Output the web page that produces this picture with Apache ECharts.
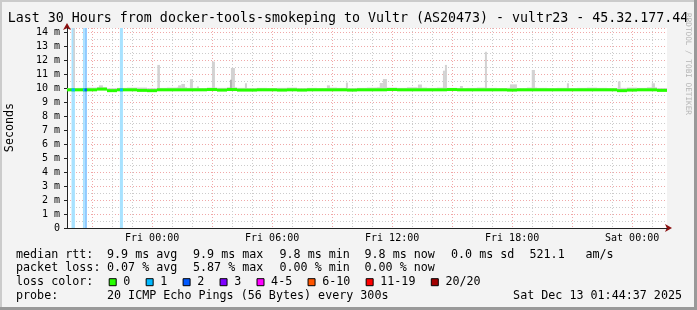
<!DOCTYPE html>
<html><head><meta charset="utf-8">
<script src="https://cdn.jsdelivr.net/npm/echarts@6/dist/echarts.min.js"></script>
<style>html,body{margin:0;padding:0;background:#f3f3f3}#c{width:697px;height:310px}</style>
</head><body><div id="c"></div>
<script>
// ---- time axis (hours since Thu Dec 11 00:00) ----
const START_H = 19.7436;   // Thu 19:44:37
const END_H = 49.7436;     // Sat 01:44:37
const STEP_H = 0.5;        // median bins of 30 min
const Y_MAX = 14.3;

const xLabelHours = [24, 30, 36, 42, 48];
const xLabels = ['Fri 00:00', 'Fri 06:00', 'Fri 12:00', 'Fri 18:00', 'Sat 00:00'];
const majorHours = [21, 24, 27, 30, 33, 36, 39, 42, 45, 48];
const minorHours = [20, 22, 23, 25, 26, 28, 29, 31, 32, 34, 35, 37, 38, 40, 41, 43, 44, 46, 47, 49];

// median rtt (ms) per 30-min bin
const median = [
  9.88, 9.88, 9.88, 9.93, 9.82, 9.88, 9.88, 9.84, 9.82, 9.88,
  9.88, 9.88, 9.88, 9.88, 9.90, 9.86, 9.90, 9.86, 9.86, 9.88,
  9.88, 9.86, 9.88, 9.86, 9.88, 9.88, 9.88, 9.88, 9.86, 9.88,
  9.88, 9.88, 9.90, 9.88, 9.88, 9.88, 9.88, 9.88, 9.90, 9.88,
  9.88, 9.88, 9.88, 9.88, 9.86, 9.88, 9.88, 9.88, 9.88, 9.88,
  9.88, 9.88, 9.88, 9.88, 9.88, 9.82, 9.86, 9.88, 9.88, 9.84
];
// upper edge of the thin smoke band per bin (ms)
const smokeTop = [
  10.00, 10.02, 10.04, 10.06, 10.00, 10.02, 10.04, 10.04, 10.00, 10.02,
  10.04, 10.06, 10.02, 10.00, 10.04, 10.02, 10.06, 10.02, 10.00, 10.02,
  10.00, 10.02, 10.04, 10.00, 10.02, 10.00, 10.04, 10.02, 10.00, 10.02,
  10.04, 10.06, 10.04, 10.02, 10.06, 10.04, 10.02, 10.04, 10.02, 10.00,
  10.02, 10.04, 10.02, 10.00, 10.02, 10.00, 10.04, 10.02, 10.00, 10.02,
  10.00, 10.02, 10.04, 10.02, 10.00, 10.02, 10.04, 10.02, 10.06, 10.00
];
// smoke spikes: [startHour, endHour, top ms]
const spikes = [
  [20.06, 20.14, 14.5], [21.34, 21.54, 10.2], [24.26, 24.39, 11.66],
  [25.30, 25.46, 10.2], [25.46, 25.64, 10.3], [25.89, 26.04, 10.64],
  [26.24, 26.34, 10.12], [26.99, 27.14, 11.9], [27.94, 28.14, 11.44],
  [28.64, 28.74, 10.35], [32.74, 32.89, 10.2], [33.69, 33.79, 10.4],
  [35.38, 35.54, 10.37], [35.54, 35.74, 10.65], [37.29, 37.49, 10.26],
  [38.54, 38.64, 11.25], [38.64, 38.74, 11.66], [39.39, 39.54, 10.15],
  [40.64, 40.74, 12.6], [41.89, 42.24, 10.27], [42.98, 43.14, 11.3],
  [44.74, 44.84, 10.35], [47.29, 47.42, 10.48], [48.98, 49.14, 10.35]
];
// darker core of smoke: [startHour, endHour, top ms]
const smokeCore = [[27.89, 27.99, 10.6]];
// packet loss intervals: [startHour, endHour, lost pings]
const lossEvents = [
  [19.97, 20.14, 1], [20.54, 20.63, 1], [20.63, 20.74, 2], [22.39, 22.54, 1]
];

const lossColors = ['#26ff00', '#00b8ff', '#0059ff', '#7e00ff', '#ff00ff', '#ff5500', '#ff0000', '#a10000'];
const lossBgColors = ['#ffffff', '#a8e2ff', '#8fcaff'];
const lossLabels = ['0', '1', '2', '3', '4-5', '6-10', '11-19', '20/20'];

const title = 'Last 30 Hours from docker-tools-smokeping to Vultr (AS20473) - vultr23 - 45.32.177.44';
const rttRow = [['median rtt:', 16], ['9.9 ms avg', 107], ['9.9 ms max', 193], ['9.8 ms min', 279.5], ['9.8 ms now', 364.5], ['0.0 ms sd', 451], ['521.1', 529.5], ['am/s', 585.5]];
const lossRow = [['packet loss:', 16], ['0.07 % avg', 107], ['5.87 % max', 193], ['0.00 % min', 279.5], ['0.00 % now', 364.5]];
const probeText = '20 ICMP Echo Pings (56 Bytes) every 300s';
const dateText = 'Sat Dec 13 01:44:37 2025';

// ---- build ----
const MONO = '"DejaVu Sans Mono", "Liberation Mono", monospace';
const medianData = median.map((v, i) => [START_H + i * STEP_H, START_H + (i + 1) * STEP_H, v, 0]);
const smokeData = median.map((v, i) => [START_H + i * STEP_H, START_H + (i + 1) * STEP_H, v, smokeTop[i]]);
function medianAt(h) { return median[Math.min(median.length - 1, Math.floor((h - START_H) / STEP_H))]; }
const spikeData = spikes.map(s => [s[0], s[1], medianAt(s[0]), s[2]]);
const coreData = smokeCore.map(s => [s[0], s[1], medianAt(s[0]), s[2]]);
const lossBgData = lossEvents.map(e => [e[0], e[1], 0, Y_MAX, e[2]]);
const lossLineData = lossEvents.map(e => [e[0], e[1], medianAt(e[0]), e[2]]);

function clipRect(r, cs) {
  return echarts.graphic.clipRectByRect(r, {x: cs.x, y: cs.y, width: cs.width, height: cs.height});
}
function rangeRender(fillFn) {
  return function (params, api) {
    const a = api.coord([api.value(0), api.value(2)]);
    const b = api.coord([api.value(1), api.value(3)]);
    const shape = clipRect({x: a[0], y: b[1], width: b[0] - a[0], height: a[1] - b[1]}, params.coordSys);
    return shape && {type: 'rect', shape: shape, style: {fill: fillFn(api)}};
  };
}
function lineRender(params, api) {
  const a = api.coord([api.value(0), api.value(2)]);
  const b = api.coord([api.value(1), api.value(2)]);
  const shape = clipRect({x: a[0], y: a[1] - 1.5, width: b[0] - a[0], height: 3}, params.coordSys);
  return shape && {type: 'rect', shape: shape, style: {fill: lossColors[api.value(3)]}};
}

const graphics = [];
// 3D frame
graphics.push({type: 'rect', shape: {x: 0, y: 0, width: 697, height: 2}, style: {fill: '#cbcbcb'}, silent: true});
graphics.push({type: 'rect', shape: {x: 0, y: 0, width: 2, height: 310}, style: {fill: '#cbcbcb'}, silent: true});
graphics.push({type: 'rect', shape: {x: 694, y: 0, width: 3, height: 310}, style: {fill: '#999999'}, silent: true});
graphics.push({type: 'rect', shape: {x: 0, y: 307, width: 697, height: 3}, style: {fill: '#999999'}, silent: true});
// title
graphics.push({type: 'text', x: 348, y: 19, style: {text: title, font: '13.3px ' + MONO, fill: '#000', align: 'center', verticalAlign: 'middle'}});
// y axis name
graphics.push({type: 'text', x: 10, y: 127.5, rotation: Math.PI / 2, style: {text: 'Seconds', font: '11.7px ' + MONO, fill: '#000', align: 'center', verticalAlign: 'middle'}});
// watermark
graphics.push({type: 'text', x: 688, y: 64, rotation: -Math.PI / 2, style: {text: 'RRDTOOL / TOBI OETIKER', font: '7.7px ' + MONO, fill: '#b4b4b4', align: 'center', verticalAlign: 'middle'}});
// legend rows
const rowY = [254.6, 268.3, 282.2, 296.2];
rttRow.forEach(t => graphics.push({type: 'text', x: t[1], y: rowY[0], style: {text: t[0], font: '11.7px ' + MONO, fill: '#000', verticalAlign: 'middle'}}));
lossRow.forEach(t => graphics.push({type: 'text', x: t[1], y: rowY[1], style: {text: t[0], font: '11.7px ' + MONO, fill: '#000', verticalAlign: 'middle'}}));
graphics.push({type: 'text', x: 16, y: rowY[2], style: {text: 'loss color:', font: '11.7px ' + MONO, fill: '#000', verticalAlign: 'middle'}});
let sx = 108.7;
lossLabels.forEach((lab, i) => {
  graphics.push({type: 'rect', shape: {x: sx + 0.5, y: rowY[2] - 3.5, width: 7, height: 7}, style: {fill: lossColors[i], stroke: '#000', lineWidth: 1}});
  graphics.push({type: 'text', x: sx + 14.6, y: rowY[2], style: {text: lab, font: '11.7px ' + MONO, fill: '#000', verticalAlign: 'middle'}});
  sx += 14.6 + lab.length * 7.05 + 15.3;
});
graphics.push({type: 'text', x: 16, y: rowY[3], style: {text: 'probe:', font: '11.7px ' + MONO, fill: '#000', verticalAlign: 'middle'}});
graphics.push({type: 'text', x: 107, y: rowY[3], style: {text: probeText, font: '11.7px ' + MONO, fill: '#000', verticalAlign: 'middle'}});
graphics.push({type: 'text', x: 682, y: rowY[3], style: {text: dateText, font: '11.7px ' + MONO, fill: '#000', align: 'right', verticalAlign: 'middle'}});

const gridLineGray = {show: true, lineStyle: {color: '#cccccc', width: 1, type: [1, 2]}};
const gridLineRed = {show: true, lineStyle: {color: '#f0a8a8', width: 1, type: [1, 2]}};
const ARROW = '#8b1010';
const AXIS = '#222';

const baseX = {type: 'value', min: START_H, max: END_H, gridIndex: 0, position: 'bottom'};
const baseY = {type: 'value', min: 0, max: Y_MAX, interval: 1, gridIndex: 0, position: 'left'};

const option = {
  animation: false,
  backgroundColor: '#f3f3f3',
  grid: {left: 67, right: 30, top: 28, bottom: 82, show: true, backgroundColor: '#ffffff', borderWidth: 0},
  xAxis: [
    Object.assign({}, baseX, {
      axisLine: {show: false}, axisTick: {show: false, customValues: minorHours},
      axisLabel: {show: false, customValues: minorHours}, splitLine: gridLineGray
    }),
    Object.assign({}, baseX, {
      axisLine: {show: true, onZero: false, symbol: ['none', 'arrow'], symbolSize: [6, 7], symbolOffset: [0, 5], lineStyle: {color: ARROW, width: 1}},
      axisTick: {show: false, customValues: majorHours},
      axisLabel: {show: true, customValues: xLabelHours, margin: 5, color: '#000', fontFamily: MONO, fontSize: 10,
        formatter: v => { const i = xLabelHours.findIndex(h => Math.abs(h - v) < 1e-6); return i >= 0 ? xLabels[i] : ''; }},
      splitLine: gridLineRed
    }),
    Object.assign({}, baseX, {
      z: 1, axisLine: {show: true, onZero: false, lineStyle: {color: AXIS, width: 1}},
      axisTick: {show: false}, axisLabel: {show: false}, splitLine: {show: false}
    })
  ],
  yAxis: [
    Object.assign({}, baseY, {
      axisLine: {show: true, onZero: false, symbol: ['none', 'arrow'], symbolSize: [6, 7], symbolOffset: [0, 5], lineStyle: {color: ARROW, width: 1}},
      axisTick: {show: true, length: 3, lineStyle: {color: AXIS}},
      axisLabel: {show: true, margin: 7, color: '#000', fontFamily: MONO, fontSize: 10, formatter: v => v === 0 ? '0' : v + ' m'},
      splitLine: gridLineRed,
      minorTick: {show: false, splitNumber: 2},
      minorSplitLine: gridLineGray
    }),
    Object.assign({}, baseY, {
      z: 1, axisLine: {show: true, onZero: false, lineStyle: {color: AXIS, width: 1}},
      axisTick: {show: false}, axisLabel: {show: false}, splitLine: {show: false}
    })
  ],
  series: [
    {type: 'custom', name: 'lossbg', xAxisIndex: 1, yAxisIndex: 0, data: lossBgData, encode: {x: [0, 1], y: [2, 3]},
      renderItem: rangeRender(api => lossBgColors[api.value(4)] || '#a8e2ff'), z: 2},
    {type: 'custom', name: 'smoke', xAxisIndex: 1, yAxisIndex: 0, data: smokeData, encode: {x: [0, 1], y: [2, 3]},
      renderItem: rangeRender(() => '#d2d2d2'), z: 3},
    {type: 'custom', name: 'spikes', xAxisIndex: 1, yAxisIndex: 0, data: spikeData, encode: {x: [0, 1], y: [2, 3]},
      renderItem: rangeRender(() => '#d2d2d2'), z: 3},
    {type: 'custom', name: 'core', xAxisIndex: 1, yAxisIndex: 0, data: coreData, encode: {x: [0, 1], y: [2, 3]},
      renderItem: rangeRender(() => '#b0b0b0'), z: 3},
    {type: 'custom', name: 'median', xAxisIndex: 1, yAxisIndex: 0, data: medianData, encode: {x: [0, 1], y: 2},
      renderItem: lineRender, z: 4},
    {type: 'custom', name: 'lossline', xAxisIndex: 1, yAxisIndex: 0, data: lossLineData, encode: {x: [0, 1], y: 2},
      renderItem: lineRender, z: 5}
  ],
  graphic: graphics
};
const chart = echarts.init(document.getElementById('c'), null, {width: 697, height: 310});
chart.setOption(option);
</script>
</body></html>
